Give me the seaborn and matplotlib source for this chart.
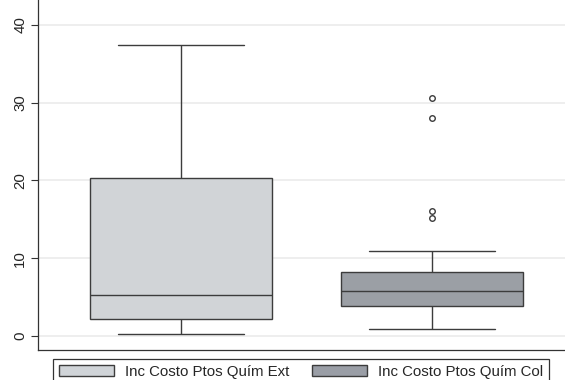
import seaborn as sns
import matplotlib.pyplot as plt
from matplotlib.patches import Patch
import pandas as pd

# Box-plot samples (chosen so quartiles, whiskers and outliers match the chart)
ext_values = [0.26, 2.2, 5.3, 20.3, 37.4]
col_values = [0.9, 1.8, 2.6, 3.1, 3.5, 3.9, 4.3, 4.8, 5.2, 5.5, 5.8,
              6.2, 6.7, 7.1, 7.6, 8.2, 10.9, 15.2, 16.1, 28.0, 30.6]
labels = ["Inc Costo Ptos Quím Ext", "Inc Costo Ptos Quím Col"]
colors = ["#d0d4d8", "#9a9ea6"]
y_ticks = [0, 10, 20, 30, 40]

df = pd.DataFrame({
    "serie": [labels[0]] * len(ext_values) + [labels[1]] * len(col_values),
    "valor": ext_values + col_values,
})

sns.set_style("white")
plt.rcParams["font.family"] = ["Liberation Sans", "DejaVu Sans"]

fig, ax = plt.subplots(figsize=(5.65, 3.8), dpi=100)
fig.subplots_adjust(left=38 / 565, right=1.0, top=1.0, bottom=1 - 350 / 380)

line_color = "#3c3c3c"
sns.boxplot(
    data=df, x="serie", y="valor", hue="serie", order=labels, hue_order=labels,
    palette=colors, width=0.725, dodge=False, linewidth=1.0, linecolor=line_color,
    whis=1.5, capwidths=0.5, legend=False,
    flierprops=dict(marker="o", markersize=4.0, markerfacecolor="none",
                    markeredgecolor=line_color, markeredgewidth=1.0),
    ax=ax, zorder=3,
)

ax.set_xlim(-0.57, 1.53)
ax.set_ylim(-1.8, 43.2)
ax.set_yticks(y_ticks)
ax.set_yticklabels([str(t) for t in y_ticks], rotation=90, va="center", fontsize=10.8)
ax.set_xticks([])
ax.set_xlabel("")
ax.set_ylabel("")
ax.grid(axis="y", color="#ebebeb", linewidth=1.2, zorder=0)
ax.set_axisbelow(True)
ax.tick_params(axis="y", left=True, length=4.7, width=0.8, pad=3.0, color="#333333")

for side in ["top", "right"]:
    ax.spines[side].set_visible(False)
for side in ["left", "bottom"]:
    ax.spines[side].set_color("#333333")
    ax.spines[side].set_linewidth(0.9)

# legend below the plot, like the original
handles = [Patch(facecolor=c, edgecolor=line_color, linewidth=1.0) for c in colors]
leg = fig.legend(
    handles, labels, loc="upper left", bbox_to_anchor=(53 / 565, 1 - 359 / 380),
    ncol=2, fontsize=10.8, frameon=True, fancybox=False, edgecolor="black",
    handlelength=3.67, handleheight=0.75, handletextpad=0.73, columnspacing=1.5,
    borderpad=0.4, borderaxespad=0,
)
leg.get_frame().set_linewidth(0.9)

plt.savefig("out.png", dpi=100)
plt.close()
